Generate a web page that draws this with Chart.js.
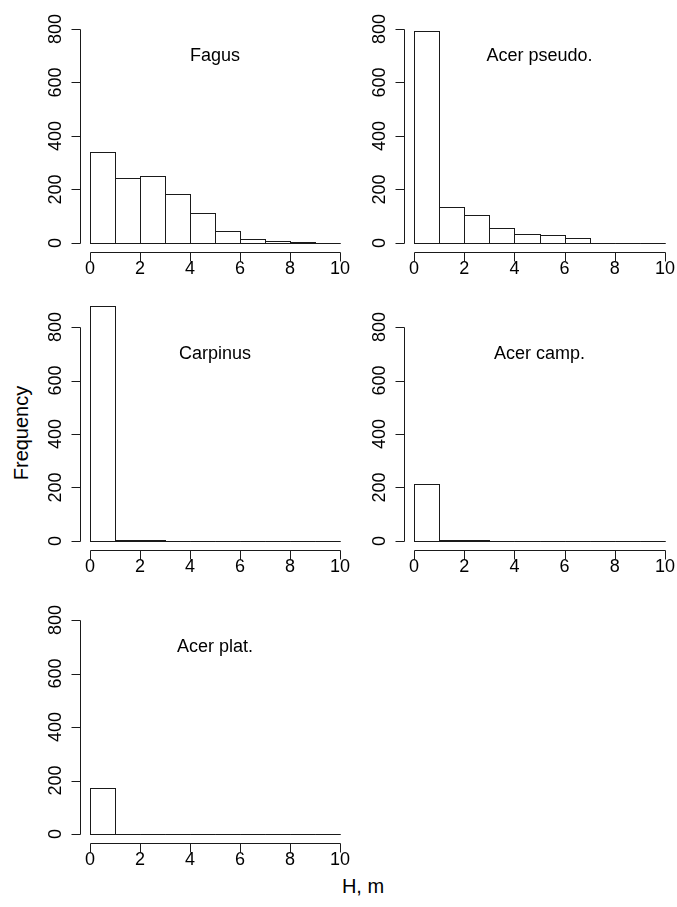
<!DOCTYPE html>
<html>
<head>
<meta charset="utf-8">
<title>Height histograms</title>
<script src="https://cdn.jsdelivr.net/npm/chart.js@4.4.1/dist/chart.umd.min.js"></script>
<style>
  html, body { margin: 0; padding: 0; background: #fff; }
  #wrap { position: relative; width: 677px; height: 907px; overflow: hidden; }
  #wrap canvas { position: absolute; left: 0; top: 0; }
  .lab {
    position: absolute;
    font-family: "Liberation Sans", Arial, sans-serif;
    font-size: 20px;
    line-height: 20px;
    color: #000;
    white-space: nowrap;
  }
  #ylab { left: 21px; top: 433px; transform: translate(-50%, -50%) rotate(-90deg); }
  #xlab { left: 363px; top: 886px; transform: translate(-50%, -50%); }
</style>
</head>
<body>
<div id="wrap">
  <div class="lab" id="ylab">Frequency</div>
  <div class="lab" id="xlab">H, m</div>
</div>

<script>
// Histogram bins (height classes, 1 m wide) and counts per species
const binCenters = [0.5, 1.5, 2.5, 3.5, 4.5, 5.5, 6.5, 7.5, 8.5, 9.5];
const species = ["Fagus", "Acer pseudo.", "Carpinus", "Acer camp.", "Acer plat."];
const fagusCounts = [341, 244, 252, 182, 113, 45, 16, 6, 2, 1];
const acerPseudoCounts = [794, 133, 103, 57, 34, 29, 20, 1, 0, 0];
const carpinusCounts = [877, 5, 2, 0, 0, 0, 0, 0, 0, 0];
const acerCampCounts = [214, 4, 3, 0, 0, 0, 0, 0, 0, 0];
const acerPlatCounts = [171, 0, 0, 0, 0, 0, 0, 0, 0, 0];
const allCounts = [fagusCounts, acerPseudoCounts, carpinusCounts, acerCampCounts, acerPlatCounts];

const xTicks = [0, 2, 4, 6, 8, 10];
const yTicks = [0, 200, 400, 600, 800];

// where each panel's plot region sits on the page (left, right, top, bottom in px)
const panelBoxes = [
  { left: 80, right: 350, top: 20.44, bottom: 251.56 },
  { left: 404, right: 675, top: 20.44, bottom: 251.56 },
  { left: 80, right: 350, top: 318.44, bottom: 549.56 },
  { left: 404, right: 675, top: 318.44, bottom: 549.56 },
  { left: 80, right: 350, top: 611.44, bottom: 842.56 }
];

const PAGE_W = 677, PAGE_H = 907;
const INK = "#1a1a1a";
const FONT = '"Liberation Sans", Arial, sans-serif';

// R-style axes: detached from the plot region, ticks outward, y labels parallel to the axis
const rAxesPlugin = {
  id: "rAxes",
  afterDatasetsDraw(chart, args, opts) {
    const ctx = chart.ctx;
    const xs = chart.scales.x;
    const ys = chart.scales.y;
    const area = chart.chartArea;
    ctx.save();
    ctx.strokeStyle = INK;
    ctx.fillStyle = "#000";
    ctx.lineWidth = 1;

    // bar outlines, one pixel, shared edges
    chart.getDatasetMeta(0).data.forEach(bar => {
      const p = bar.getProps(["x", "y", "base", "width"], true);
      const l = Math.round(p.x - p.width / 2) + 0.5;
      const r = Math.round(p.x + p.width / 2) + 0.5;
      const t = Math.round(p.y) + 0.5;
      const b = Math.round(p.base) + 0.5;
      ctx.strokeRect(l, t, r - l, b - t);
    });

    // y axis
    const ax = Math.round(area.left) + 0.5;
    const yTop = Math.round(ys.getPixelForValue(yTicks[yTicks.length - 1])) + 0.5;
    const yBot = Math.round(ys.getPixelForValue(yTicks[0])) + 0.5;
    ctx.beginPath();
    ctx.moveTo(ax, yTop);
    ctx.lineTo(ax, yBot);
    yTicks.forEach(v => {
      const y = Math.round(ys.getPixelForValue(v)) + 0.5;
      ctx.moveTo(ax - 9, y);
      ctx.lineTo(ax, y);
    });

    // x axis
    const ay = Math.round(area.bottom) + 0.5;
    const xL = Math.round(xs.getPixelForValue(xTicks[0])) + 0.5;
    const xR = Math.round(xs.getPixelForValue(xTicks[xTicks.length - 1])) + 0.5;
    ctx.moveTo(xL, ay);
    ctx.lineTo(xR, ay);
    xTicks.forEach(v => {
      const x = Math.round(xs.getPixelForValue(v)) + 0.5;
      ctx.moveTo(x, ay);
      ctx.lineTo(x, ay + 9);
    });
    ctx.stroke();

    ctx.font = "18px " + FONT;
    ctx.textAlign = "center";
    ctx.textBaseline = "middle";

    yTicks.forEach(v => {
      const y = ys.getPixelForValue(v);
      ctx.save();
      ctx.translate(ax - 24, y);
      ctx.rotate(-Math.PI / 2);
      ctx.fillText(String(v), 0, 0);
      ctx.restore();
    });

    xTicks.forEach(v => {
      ctx.fillText(String(v), xs.getPixelForValue(v), ay + 17);
    });

    // species name inside the panel
    ctx.fillText(opts.name, xs.getPixelForValue(5), ys.getPixelForValue(700));
    ctx.restore();
  }
};

const wrap = document.getElementById("wrap");

species.forEach((name, i) => {
  const box = panelBoxes[i];
  const canvas = document.createElement("canvas");
  canvas.width = PAGE_W;
  canvas.height = PAGE_H;
  canvas.style.width = PAGE_W + "px";
  canvas.style.height = PAGE_H + "px";
  wrap.appendChild(canvas);

  new Chart(canvas.getContext("2d"), {
    type: "bar",
    data: {
      datasets: [{
        data: binCenters.map((x, k) => ({ x, y: allCounts[i][k] })),
        backgroundColor: "#ffffff",
        borderWidth: 0,
        barPercentage: 1,
        categoryPercentage: 1,
        clip: false
      }]
    },
    options: {
      responsive: false,
      animation: false,
      events: [],
      devicePixelRatio: 1,
      layout: {
        padding: {
          left: box.left,
          right: PAGE_W - box.right,
          top: box.top,
          bottom: PAGE_H - box.bottom
        }
      },
      plugins: {
        legend: { display: false },
        tooltip: { enabled: false },
        title: { display: false },
        rAxes: { name }
      },
      scales: {
        x: { type: "linear", min: -0.4, max: 10.4, offset: false, display: false },
        y: { type: "linear", min: -32, max: 832, display: false }
      }
    },
    plugins: [rAxesPlugin]
  });
});
</script>
</body>
</html>
